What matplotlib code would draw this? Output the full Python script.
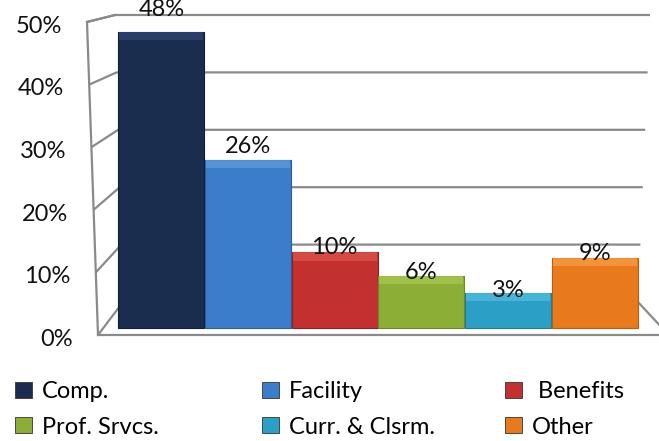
import matplotlib
matplotlib.use("Agg")
import matplotlib.pyplot as plt
from matplotlib.patches import Patch
import numpy as np

plt.rcParams['font.family'] = ['Lato', 'DejaVu Sans']

categories = ["Comp.", "Facility", " Benefits", "Prof. Srvcs.", "Curr. & Clsrm.", "Other"]
values = [48, 26, 10, 6, 3, 9]
value_labels = ["48%", "26%", "10%", "6%", "3%", "9%"]
tick_values = [0, 10, 20, 30, 40, 50]
tick_labels = ["0%", "10%", "20%", "30%", "40%", "50%"]
colors = ["#1b2d4e", "#3b7dca", "#c2312f", "#8cae36", "#2b9fc6", "#e8791c"]
tops = ["#2b4170", "#5a98dc", "#d8504a", "#a5c44e", "#4cb9dc", "#f59a3e"]
edges = ["#111d33", "#2a5f9e", "#8e2120", "#6a8a25", "#1d7c9c", "#b85d12"]

W, H = 659, 441
FS = 17
fig = plt.figure(figsize=(W / 100, H / 100), dpi=100)

# pixel anchors (layout)
px_left, px_unit = 118.0, 86.67      # x=-0.5 at px_left, px per category
front0, front_k = 335.0, 6.26        # front plane: 0% pixel row, px per %
bar0, bar_k = 310.4, 5.8             # bar top plane

def xlims():
    return (-0.5 - px_left / px_unit, -0.5 + (W - px_left) / px_unit)

ax = fig.add_axes([0, 0, 1, 1])
ax.set_xlim(*xlims())
ax.set_ylim((front0 - H) / front_k, front0 / front_k)
ax.axis('off')
ax.set_zorder(0)

bx = fig.add_axes([0, 0, 1, 1])
bx.set_xlim(*xlims())
bx.set_ylim((bar0 - H) / bar_k, bar0 / bar_k)
bx.axis('off')
bx.patch.set_alpha(0)
bx.set_zorder(1)

def pxx(p):
    return -0.5 + (p - px_left) / px_unit

def pyf(p):
    return (front0 - p) / front_k

def left_front(v):
    return pxx(98 - 11 * v / 50), v

def left_back(v):
    return pxx(123 - 8 * v / 50), pyf(302 - 287 * v / 50)

def right_back(v):
    return pxx(638 + 12 * v / 50), pyf(302 - 287 * v / 50)

gc = "#8a8a8a"
for v in tick_values:
    a = left_front(v); b = left_back(v); c = right_back(v)
    ax.plot([a[0], b[0], c[0]], [a[1], b[1], c[1]], color=gc, lw=1.6,
            solid_capstyle='butt', zorder=1)
a0 = left_front(0); a5 = left_front(50)
ax.plot([a0[0], a5[0]], [a0[1], a5[1]], color=gc, lw=1.6, zorder=1)
b5 = left_back(50)
ax.plot([a5[0], b5[0]], [a5[1], b5[1]], color=gc, lw=1.6, zorder=1)
ax.plot([a0[0], pxx(W + 5)], [0, 0], color=gc, lw=1.6, zorder=1)
rb = right_back(0)
ax.plot([rb[0], pxx(W + 5)], [rb[1], pyf(330)], color=gc, lw=1.6, zorder=1)

for v, t in zip(tick_values, tick_labels):
    x, y = left_front(v)
    ax.text(x - 0.29, y - 0.7, t, ha='right', va='center', fontsize=FS, color='#111111')

# bars
x = np.arange(len(values))
floor = (bar0 - 328) / bar_k
vals = np.array(values, dtype=float)
bx.bar(x, vals - floor, bottom=floor, width=0.99, color=colors,
       edgecolor=edges, linewidth=0.8, zorder=3)
bx.bar(x, 1.4, bottom=vals - 1.4, width=0.97, color=tops, linewidth=0, zorder=4, alpha=0.85)

# value labels (front-plane coordinates, drawn above the bars)
for xi, v, lab in zip(x, values, value_labels):
    bx.text(xi, v + 3.0, lab, ha='center', va='baseline', fontsize=FS,
            color='#111111', zorder=6, transform=ax.transData)

# legend: three columns of two rows
handles = [Patch(facecolor=c, edgecolor='#333333', linewidth=0.6) for c in colors]
col_x = [15, 262, 505]
cols = [[0, 3], [1, 4], [2, 5]]
for cx, idx in zip(col_x, cols):
    fig.legend([handles[i] for i in idx], [categories[i] for i in idx],
               loc='center left', bbox_to_anchor=(cx / W, 1 - 409.5 / H),
               frameon=False, fontsize=FS, handlelength=0.72, handleheight=0.65,
               handletextpad=0.42, labelspacing=0.6,
               borderaxespad=0, borderpad=0)

fig.savefig("out.png", dpi=100)
